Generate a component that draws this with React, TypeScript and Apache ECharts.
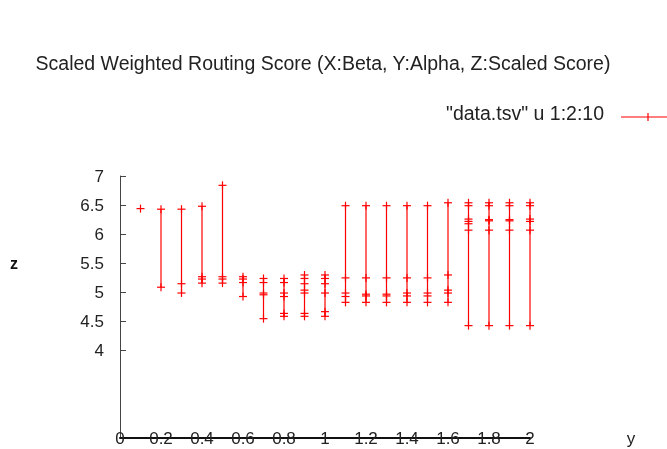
import React, { useEffect, useRef } from "react";
import * as echarts from "echarts";

const titleText = "Scaled Weighted Routing Score (X:Beta, Y:Alpha, Z:Scaled Score)";
const legendText = '"data.tsv" u 1:2:10';
const xTickValues = [0, 0.2, 0.4, 0.6, 0.8, 1, 1.2, 1.4, 1.6, 1.8, 2];
const zTickValues = [4, 4.5, 5, 5.5, 6, 6.5, 7];
const betaValues = [0.1, 0.2, 0.3, 0.4, 0.5, 0.6, 0.7, 0.8, 0.9, 1.0, 1.1, 1.2, 1.3, 1.4, 1.5, 1.6, 1.7, 1.8, 1.9, 2.0];
const scoreGroups: number[][] = [
  [6.44],
  [6.43, 5.09],
  [6.43, 5.15, 4.99],
  [6.48, 5.27, 5.23, 5.16],
  [6.84, 5.27, 5.23, 5.16],
  [5.27, 5.23, 5.17, 4.93],
  [5.24, 5.17, 4.99, 4.96, 4.55],
  [5.24, 5.17, 4.99, 4.93, 4.64, 4.59],
  [5.3, 5.24, 5.15, 5.04, 4.99, 4.64, 4.59],
  [5.3, 5.24, 5.15, 4.99, 4.67, 4.59],
  [6.49, 5.25, 4.99, 4.93, 4.83],
  [6.49, 5.25, 4.97, 4.94, 4.83],
  [6.49, 5.25, 4.97, 4.94, 4.83],
  [6.49, 5.25, 4.99, 4.94, 4.83],
  [6.49, 5.25, 4.99, 4.94, 4.83],
  [6.54, 5.3, 5.04, 4.99, 4.83],
  [6.54, 6.49, 6.26, 6.22, 6.18, 6.07, 4.43],
  [6.54, 6.49, 6.25, 6.23, 6.07, 4.43],
  [6.54, 6.49, 6.25, 6.23, 6.07, 4.43],
  [6.54, 6.49, 6.26, 6.22, 6.07, 4.43],
];

const FONT = '"Liberation Sans", Arial, sans-serif';
const RED = "#ff0000";

export default function App() {
  const ref = useRef<HTMLDivElement>(null);
  useEffect(() => {
    if (!ref.current) return;
    const chart = echarts.init(ref.current, null, { renderer: "svg" });

    const rangeData = betaValues.map((x, i) => [x, Math.min(...scoreGroups[i]), Math.max(...scoreGroups[i])]);
    const pointData: number[][] = [];
    betaValues.forEach((x, i) => scoreGroups[i].forEach((z) => pointData.push([x, z])));

    chart.setOption({
      animation: false,
      grid: { left: 120, right: 137, top: 176, bottom: 11, containLabel: false },
      xAxis: {
        type: "value",
        min: 0,
        max: 2,
        interval: 0.2,
        axisLine: { show: true, onZero: false, lineStyle: { color: "#111", width: 2 } },
        axisTick: { show: false },
        splitLine: { show: false },
        axisLabel: {
          margin: -8,
          color: "#222",
          fontSize: 17,
          fontFamily: FONT,
          formatter: (v: number) => String(Math.round(v * 10) / 10),
          customValues: xTickValues,
        },
      },
      yAxis: {
        type: "value",
        min: 2.5,
        max: 7,
        interval: 0.5,
        axisLine: { show: true, onZero: false, lineStyle: { color: "#444", width: 1 } },
        axisTick: { show: true, inside: true, length: 6, lineStyle: { color: "#444" }, customValues: zTickValues },
        splitLine: { show: false },
        axisLabel: {
          margin: 16,
          color: "#222",
          fontSize: 17,
          fontFamily: FONT,
          customValues: zTickValues,
          formatter: (v: number) => String(v),
        },
      },
      series: [
        {
          type: "custom",
          data: rangeData,
          clip: false,
          renderItem: (params: any, api: any) => {
            const a = api.coord([api.value(0), api.value(1)]);
            const b = api.coord([api.value(0), api.value(2)]);
            return {
              type: "line",
              shape: { x1: a[0], y1: a[1], x2: b[0], y2: b[1] },
              style: { stroke: RED, lineWidth: 1.2 },
            };
          },
        },
        {
          type: "custom",
          data: pointData,
          clip: false,
          renderItem: (params: any, api: any) => {
            const p = api.coord([api.value(0), api.value(1)]);
            const s = 4;
            return {
              type: "group",
              children: [
                { type: "line", shape: { x1: p[0] - s, y1: p[1], x2: p[0] + s, y2: p[1] }, style: { stroke: RED, lineWidth: 1.2 } },
                { type: "line", shape: { x1: p[0], y1: p[1] - s, x2: p[0], y2: p[1] + s }, style: { stroke: RED, lineWidth: 1.2 } },
              ],
            };
          },
        },
      ],
      graphic: [
        {
          type: "text",
          x: 323,
          y: 63,
          style: { text: titleText, fill: "#222", font: `19.5px ${FONT}`, textAlign: "center", textVerticalAlign: "middle" },
        },
        {
          type: "text",
          x: 604,
          y: 113,
          style: { text: legendText, fill: "#222", font: `19.5px ${FONT}`, textAlign: "right", textVerticalAlign: "middle" },
        },
        { type: "line", shape: { x1: 621, y1: 117, x2: 667, y2: 117 }, style: { stroke: RED, lineWidth: 1.2 } },
        { type: "line", shape: { x1: 648, y1: 113, x2: 648, y2: 121 }, style: { stroke: RED, lineWidth: 1.2 } },
        {
          type: "text",
          x: 14,
          y: 263,
          style: { text: "z", fill: "#111", font: `bold 16px ${FONT}`, textAlign: "center", textVerticalAlign: "middle" },
        },
        {
          type: "text",
          x: 631,
          y: 438,
          style: { text: "y", fill: "#222", font: `17px ${FONT}`, textAlign: "center", textVerticalAlign: "middle" },
        },
      ],
    });
    return () => chart.dispose();
  }, []);
  return <div ref={ref} style={{ position: "fixed", left: 0, top: 0, width: 667, height: 449 }} />;
}
